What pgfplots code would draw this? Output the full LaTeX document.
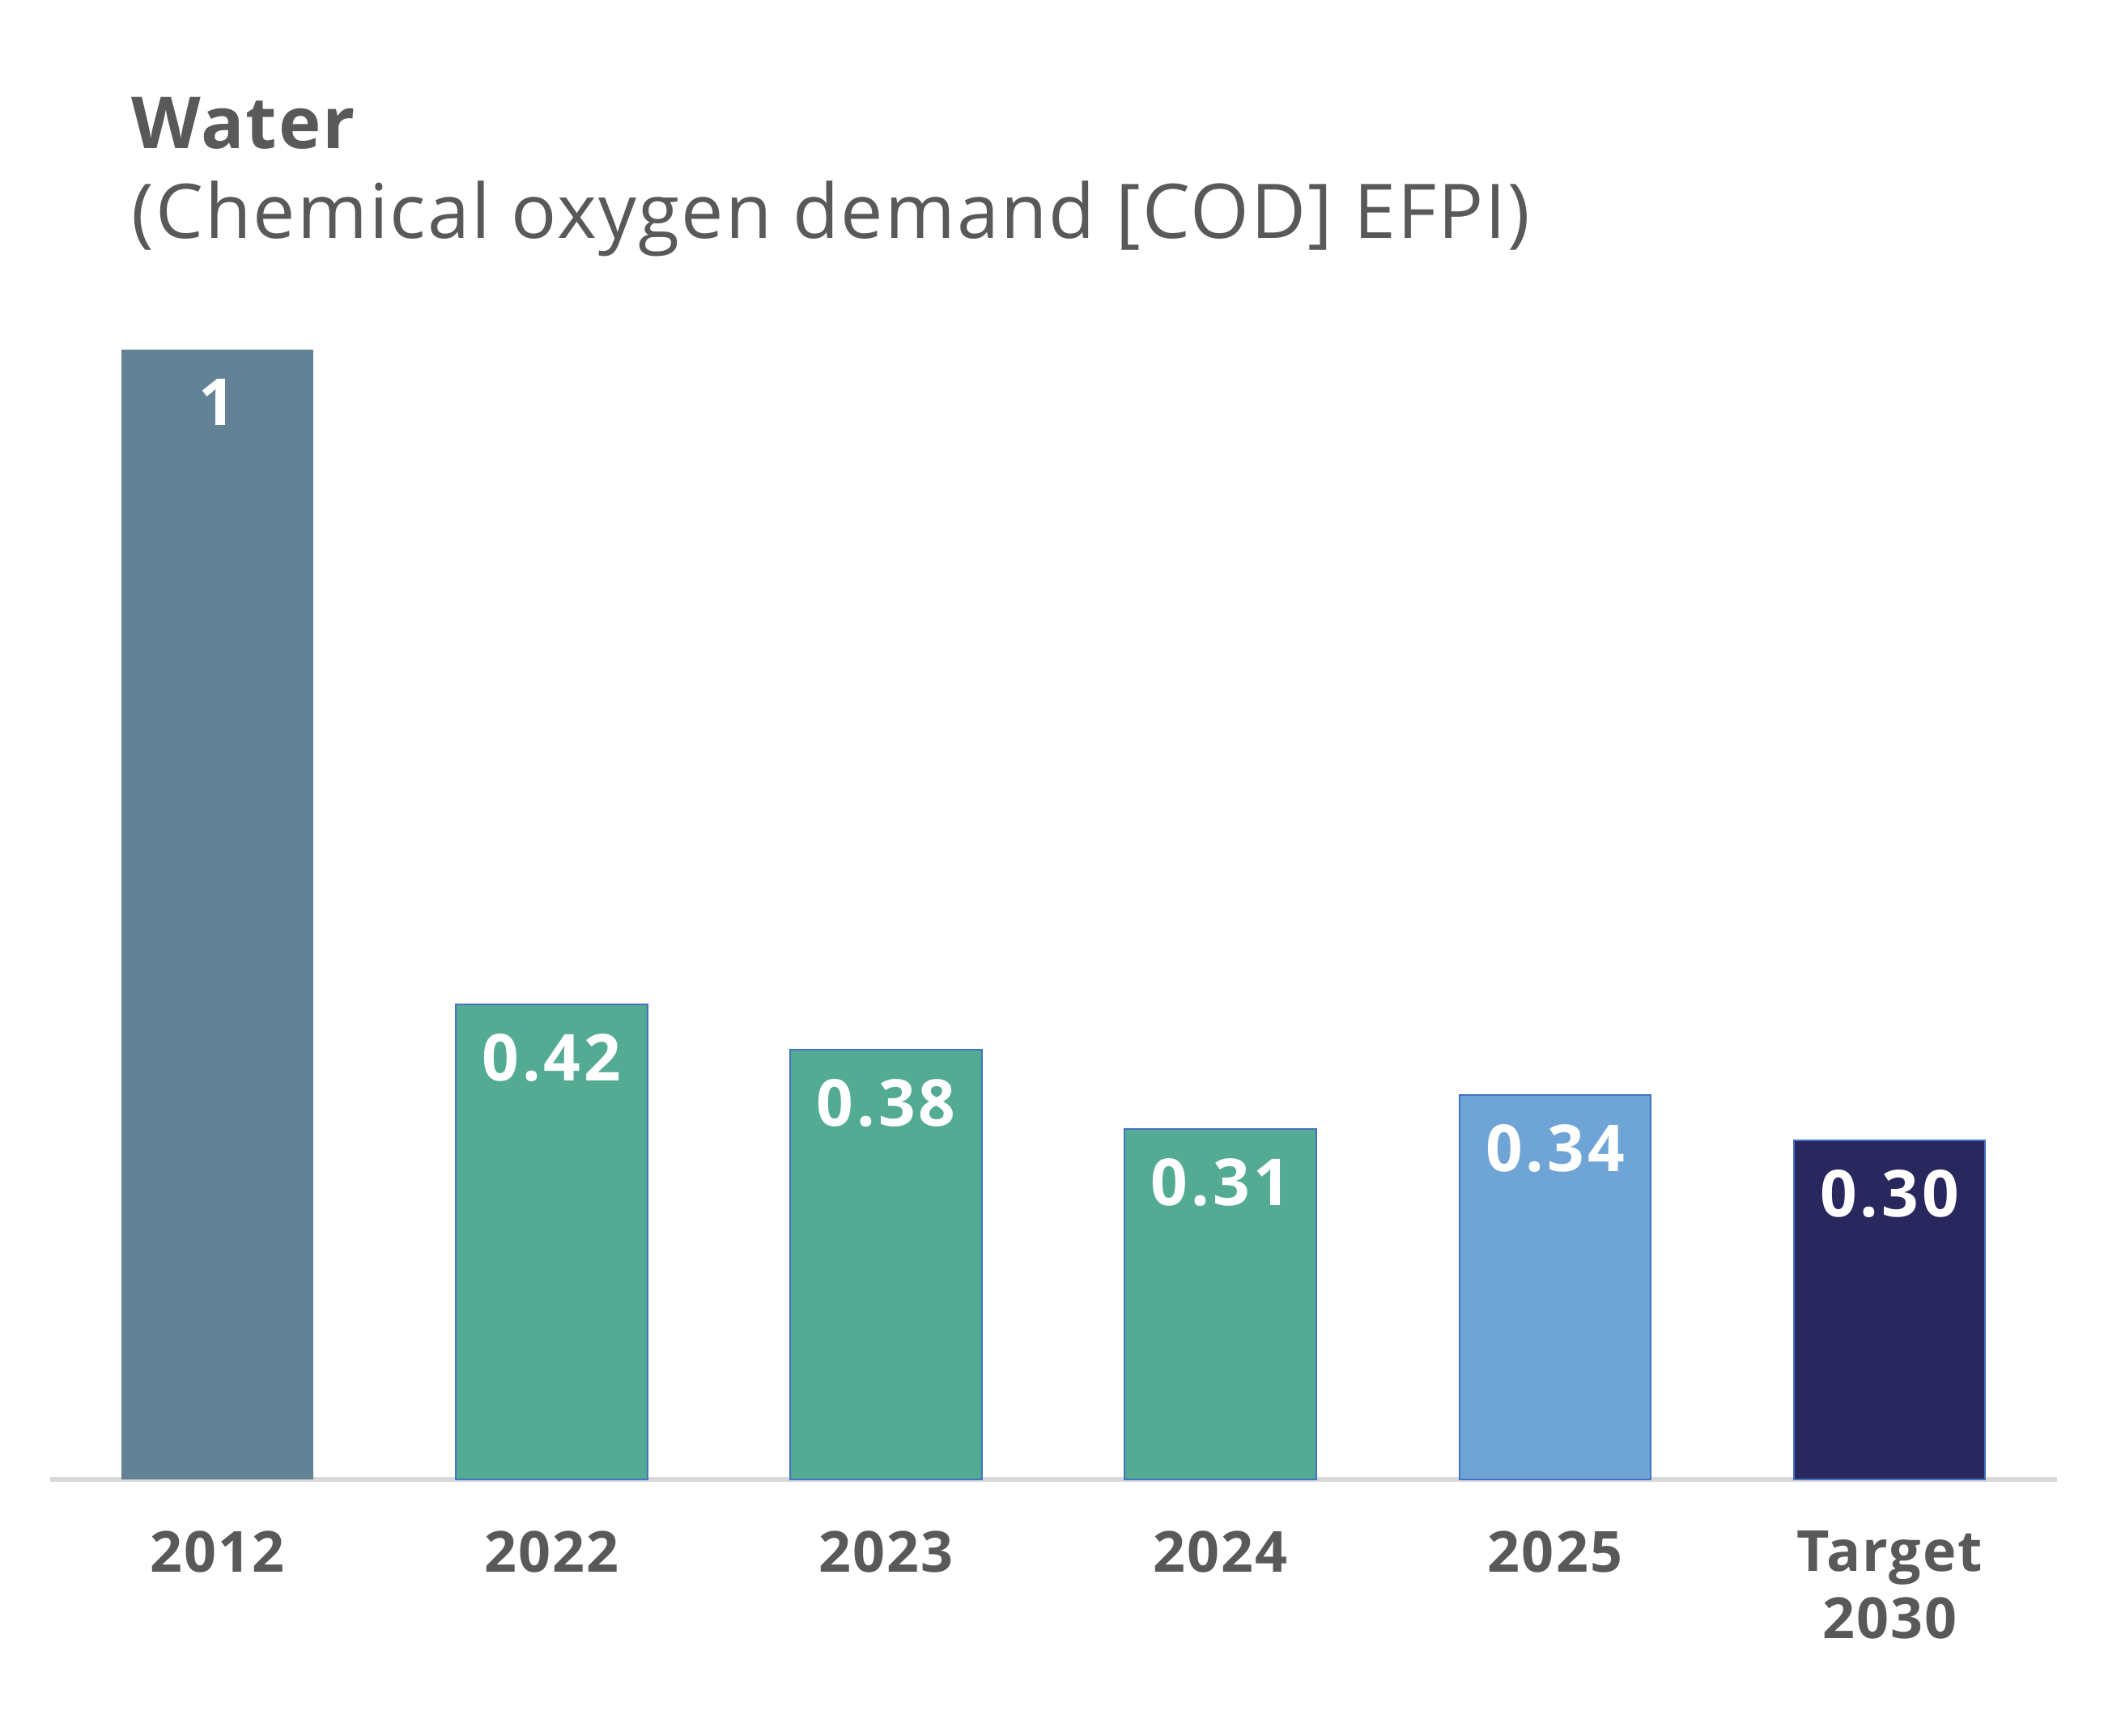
\documentclass[border=0pt]{standalone}
\usepackage{pgfplots}
\pgfplotsset{compat=1.18}
\usepackage{fontspec}
\setmainfont{Open Sans}

\definecolor{txtgray}{HTML}{595959}
\definecolor{axisgray}{HTML}{D9D9D9}
\definecolor{slate}{HTML}{648296}
\definecolor{teal}{HTML}{52AB92}
\definecolor{skyblue}{HTML}{6FA4D6}
\definecolor{navy}{HTML}{29285E}
\definecolor{edgeblue}{HTML}{4472C4}

\begin{document}
\begin{tikzpicture}
\path[use as bounding box] (0,0) rectangle (390pt,321.75pt);

% title block
\node[anchor=base west, inner sep=0, text=txtgray,
  font=\fontsize{13.3}{16}\selectfont\bfseries\addfontfeature{LetterSpace=2}]
  at (24.25pt,294.25pt) {Water};
\node[anchor=base west, inner sep=0, text=txtgray,
  font=\fontsize{14}{17}\selectfont\addfontfeature{LetterSpace=2.2}]
  at (24.25pt,277.5pt) {(Chemical oxygen demand [COD] EFPI)};

\begin{axis}[
    at={(9.25pt,47.5pt)}, anchor=south west,
    width=372pt, height=209.5pt,
    scale only axis,
    xmin=-0.5, xmax=5.5,
    ymin=0, ymax=1,
    axis x line*=bottom,
    axis y line=none,
    x axis line style={draw=axisgray, line width=0.9pt, -},
    xtick={0,1,2,3,4,5},
    xticklabels={2012,2022,2023,2024,2025,{Target\\2030}},
    xtick style={draw=none},
    xticklabel style={font=\fontsize{10.5}{12.5}\selectfont\bfseries\addfontfeature{LetterSpace=3},
      text=txtgray, align=center, anchor=north, yshift=-1.75pt},
    ybar, bar width=35.5pt, bar shift=0pt,
    clip=false,
    nodes near coords,
    nodes near coords style={font=\fontsize{12}{13}\selectfont\bfseries\addfontfeature{LetterSpace=5},
      text=white, anchor=north, yshift=-2pt},
    point meta=explicit symbolic,
]
\addplot[fill=slate, draw=none] coordinates {(0,1.00) [1]};
\addplot[fill=teal, draw=edgeblue, line width=0.3pt] coordinates {
  (1,0.42) [0.42] (2,0.38) [0.38] (3,0.31) [0.31]};
\addplot[fill=skyblue, draw=edgeblue, line width=0.3pt] coordinates {(4,0.34) [0.34]};
\addplot[fill=navy, draw=edgeblue, line width=0.3pt] coordinates {(5,0.30) [0.30]};
\end{axis}
\end{tikzpicture}
\end{document}
